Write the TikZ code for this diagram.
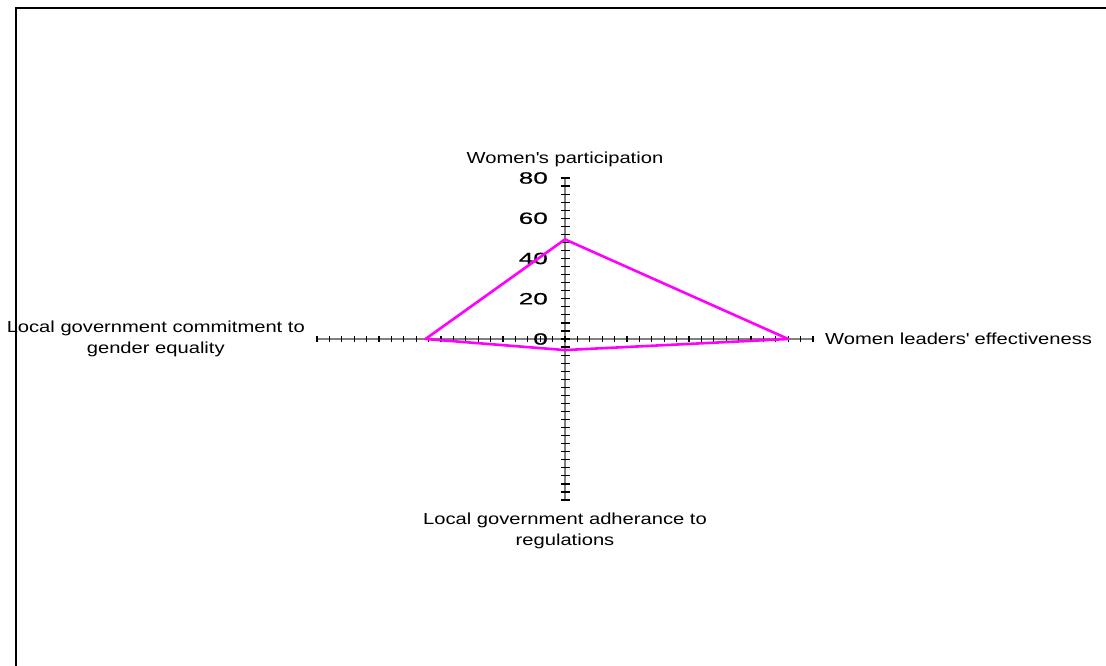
\documentclass[tikz,border=0pt]{standalone}
\usepackage{fontspec}
\setmainfont[FakeStretch=1.26]{Liberation Sans}
\newfontfamily\tickfont[FakeStretch=1.6, FakeBold=0.6]{Liberation Sans}
\usetikzlibrary{positioning}
\definecolor{seriesmagenta}{RGB}{255,0,255}

\begin{document}
\begin{tikzpicture}[x=1pt, y=-1pt,
    axisline/.style={draw=gray, line width=2pt},
    tickmark/.style={line width=1.2pt},
    series/.style={draw=seriesmagenta, line width=2.6pt, line join=round},
    axislabel/.style={font=\fontsize{16}{21}\selectfont, align=center, inner sep=0pt},
    ticklabel/.style={font=\tickfont\fontsize{16.3}{16}\selectfont, anchor=east, inner sep=0pt}]
  \useasboundingbox (0,0) rectangle (1106,666);
  % chart frame, only top and left edge are on the page
  \draw[line width=2pt] (16,666) -- (16,8) -- (1106,8);

  \begin{scope}[shift={(565pt,-339pt)}, x=3.1pt, y=2.0125pt]
    \coordinate (top) at (0,80);
    \coordinate (bottom) at (0,-80);
    \coordinate (left) at (-80,0);
    \coordinate (right) at (80,0);

    % draw the axes and their ticks, using a loop
    \draw[axisline] (left) -- (right);
    \draw[axisline] (bottom) -- (top);
    \foreach \t in {-80,-76,...,80}{
      \draw[tickmark] ([yshift=-3pt]\t,0) -- ([yshift=3pt]\t,0);
      \draw[tickmark] ([xshift=-4.5pt]0,\t) -- ([xshift=4.5pt]0,\t);
    }
    \foreach \v in {0,20,...,80}
      \node[ticklabel] (tick\v) at ([xshift=-17pt]0,\v) {\v};

    % axis titles
    \node[axislabel] (lblN) at ([yshift=19pt]top) {Women\textquotesingle s participation};
    \node[axislabel, right=12pt of right] (lblE) {Women leaders\textquotesingle\ effectiveness};
    \node[axislabel, below=13pt of bottom] (lblS) {Local government adherance to\\regulations};
    \node[axislabel, left=12pt of left] (lblW) {Local government commitment to\\gender equality};

    % data
    \coordinate (pN) at (0,49.5);
    \coordinate (pE) at (72,0);
    \coordinate (pS) at (0,-5.5);
    \coordinate (pW) at (-45,0);
    \draw[series] (pN) -- (pE) -- (pS) -- (pW) -- cycle;
  \end{scope}
\end{tikzpicture}
\end{document}
